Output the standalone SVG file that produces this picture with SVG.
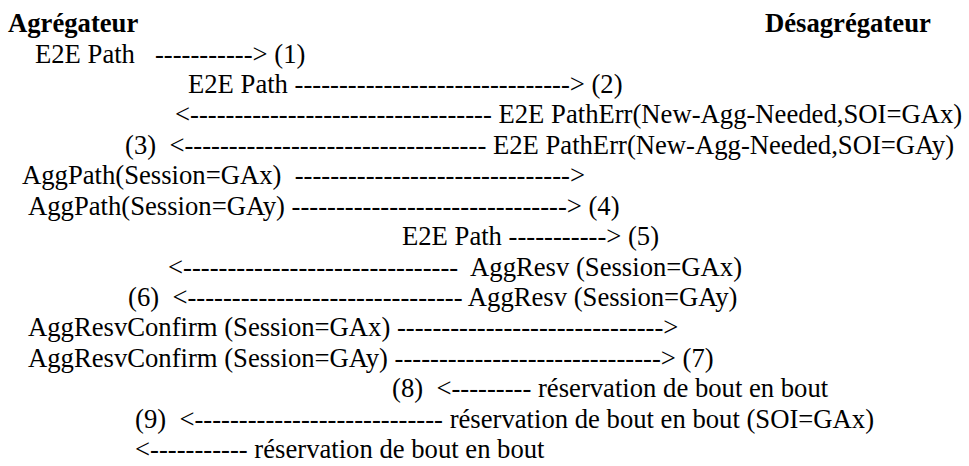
<svg xmlns="http://www.w3.org/2000/svg" width="969" height="466" viewBox="0 0 969 466">
<style>
text{font-family:'Liberation Serif','Times New Roman',serif;font-size:26.67px;fill:#000;white-space:pre}
.h{font-weight:bold}
</style>
<rect width="969" height="466" fill="#fff"/>
<g id="agregateur"><text class="h" x="8" y="32">Agrégateur</text></g>
<g id="desagregateur"><text class="h" x="765" y="32">Désagrégateur</text></g>
<g id="messages">
<text x="35" y="62.5">E2E Path   -----------&gt; (1)</text>
<text x="188" y="92.9">E2E Path -------------------------------&gt; (2)</text>
<text x="175" y="123.4">&lt;---------------------------------- E2E PathErr(New-Agg-Needed,SOI=GAx)</text>
<text x="125" y="153.8">(3)  &lt;---------------------------------- E2E PathErr(New-Agg-Needed,SOI=GAy)</text>
<text x="22" y="184.2">AggPath(Session=GAx)  -------------------------------&gt;</text>
<text x="28" y="214.7">AggPath(Session=GAy) -------------------------------&gt; (4)</text>
<text x="402" y="245.1">E2E Path -----------&gt; (5)</text>
<text x="168" y="275.5">&lt;-------------------------------  AggResv (Session=GAx)</text>
<text x="128" y="306">(6)  &lt;------------------------------- AggResv (Session=GAy)</text>
<text x="28" y="336.4">AggResvConfirm (Session=GAx) ------------------------------&gt;</text>
<text x="28" y="366.8">AggResvConfirm (Session=GAy) ------------------------------&gt; (7)</text>
<text x="392" y="397.3">(8)  &lt;--------- réservation de bout en bout</text>
<text x="135" y="427.7">(9)  &lt;---------------------------- réservation de bout en bout (SOI=GAx)</text>
<text x="135" y="458.1">&lt;----------- réservation de bout en bout</text>
</g>
</svg>
